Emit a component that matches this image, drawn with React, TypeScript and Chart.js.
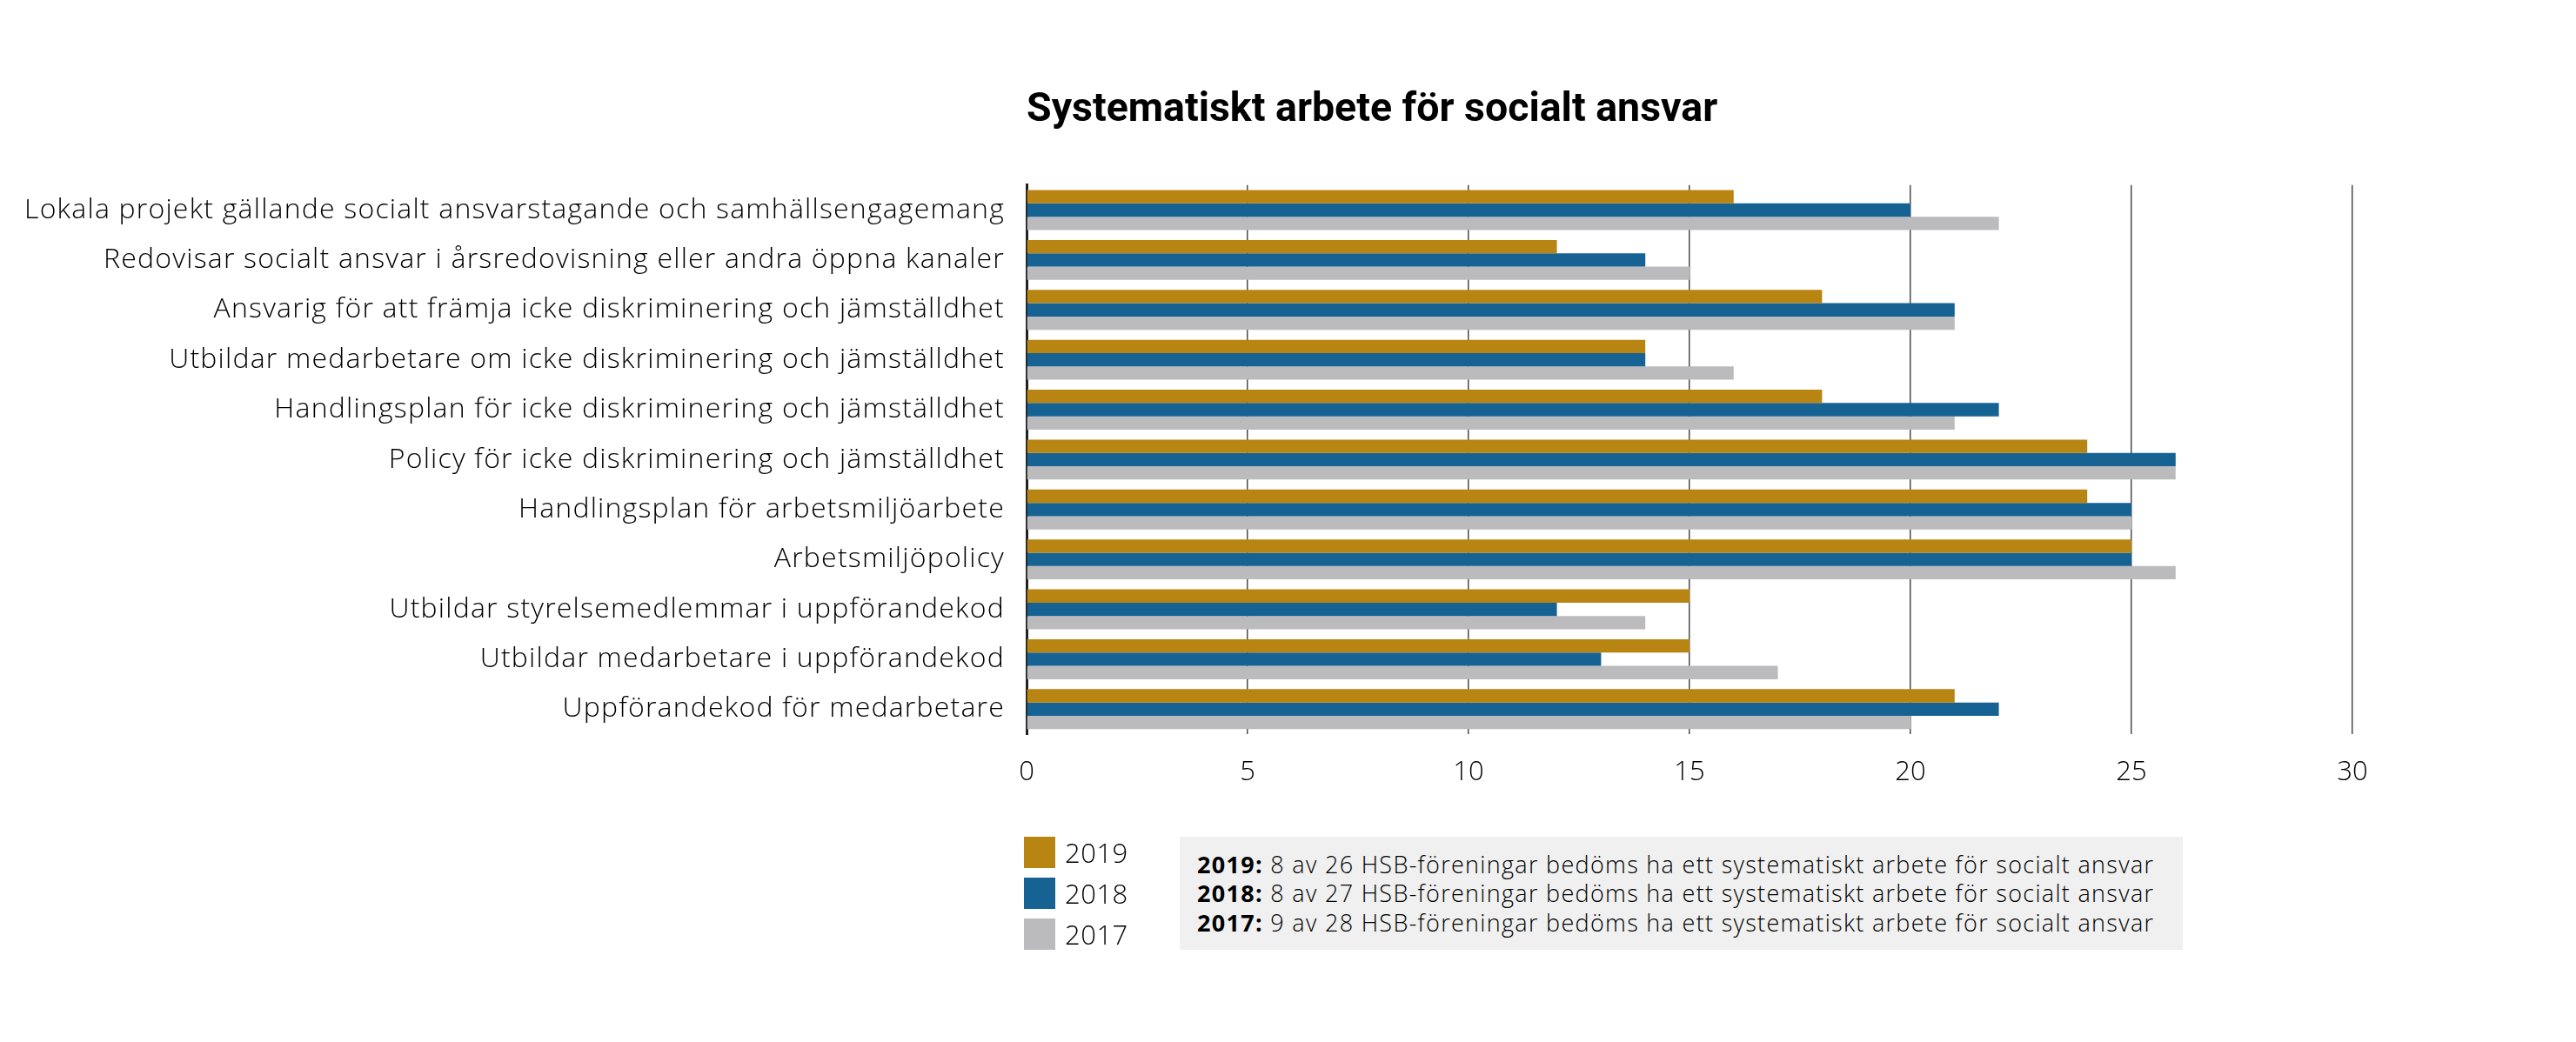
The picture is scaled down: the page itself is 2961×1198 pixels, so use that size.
import React, { useEffect, useRef } from "react";
import { Chart, registerables } from "chart.js";

Chart.register(...registerables);

const categories: string[] = [
  "Lokala projekt gällande socialt ansvarstagande och samhällsengagemang",
  "Redovisar socialt ansvar i årsredovisning eller andra öppna kanaler",
  "Ansvarig för att främja icke diskriminering och jämställdhet",
  "Utbildar medarbetare om icke diskriminering och jämställdhet",
  "Handlingsplan för icke diskriminering och jämställdhet",
  "Policy för icke diskriminering och jämställdhet",
  "Handlingsplan för arbetsmiljöarbete",
  "Arbetsmiljöpolicy",
  "Utbildar styrelsemedlemmar i uppförandekod",
  "Utbildar medarbetare i uppförandekod",
  "Uppförandekod för medarbetare",
];

const values2019: number[] = [16, 12, 18, 14, 18, 24, 24, 25, 15, 15, 21];
const values2018: number[] = [20, 14, 21, 14, 22, 26, 25, 25, 12, 13, 22];
const values2017: number[] = [22, 15, 21, 16, 21, 26, 25, 26, 14, 17, 20];

const seriesNames: string[] = ["2019", "2018", "2017"];
const seriesColors: string[] = ["#B88512", "#156293", "#BBBABD"];

const titleText = "Systematiskt arbete för socialt ansvar";

const noteYears: string[] = ["2019:", "2018:", "2017:"];
const noteTexts: string[] = [
  " 8 av 26 HSB-föreningar bedöms ha ett systematiskt arbete för socialt ansvar",
  " 8 av 27 HSB-föreningar bedöms ha ett systematiskt arbete för socialt ansvar",
  " 9 av 28 HSB-föreningar bedöms ha ett systematiskt arbete för socialt ansvar",
];

const xMin = 0;
const xMax = 30;
const xStep = 5;

const FONT = '"Open Sans", "Noto Sans", sans-serif';
const TITLE_FONT = 'Roboto, "Open Sans", sans-serif';
const TEXT_COLOR = "#000000";

const labelSpacingPlugin = {
  id: "labelSpacing",
  beforeDraw(chart: any) {
    const s: any = chart.scales.y;
    if (s && !s.__spaced) {
      const orig = s.drawLabels.bind(s);
      s.drawLabels = (area: any) => {
        const ctx: any = chart.ctx;
        ctx.save();
        ctx.letterSpacing = "1.2px";
        orig(area);
        ctx.restore();
      };
      s.__spaced = true;
    }
  },
};

export default function App() {
  const canvasRef = useRef<HTMLCanvasElement | null>(null);

  useEffect(() => {
    if (!canvasRef.current) return;
    const seriesValues = [values2019, values2018, values2017];
    const chart = new Chart(canvasRef.current, {
      type: "bar",
      data: {
        labels: categories,
        datasets: seriesNames.map((name, i) => ({
          label: name,
          data: seriesValues[i],
          backgroundColor: seriesColors[i],
          borderWidth: 0,
          barPercentage: 1.0,
          categoryPercentage: 0.8,
        })),
      },
      plugins: [labelSpacingPlugin],
      options: {
        indexAxis: "y",
        animation: false,
        responsive: true,
        maintainAspectRatio: false,
        devicePixelRatio: 1,
        layout: {
          padding: { left: 0, right: 257, top: 0, bottom: 274 },
        },
        plugins: {
          legend: { display: false },
          tooltip: { enabled: false },
          title: {
            display: true,
            text: titleText,
            align: "start",
            fullSize: false,
            color: "#000",
            font: { family: TITLE_FONT, size: 46.5, weight: "bold" },
            padding: { top: 99, bottom: 58 },
          },
        },
        scales: {
          x: {
            type: "linear",
            position: "bottom",
            min: xMin,
            max: xMax,
            ticks: {
              stepSize: xStep,
              color: TEXT_COLOR,
              font: { family: FONT, size: 31, weight: 300 },
              padding: 26,
            },
            grid: {
              color: "#4a4a4a",
              lineWidth: 1.5,
              drawTicks: false,
            },
            border: { display: false },
            afterFit: (scale: any) => {
              scale.height = 80;
            },
          },
          y: {
            type: "category",
            position: "left",
            ticks: {
              color: TEXT_COLOR,
              font: { family: FONT, size: 32, weight: 300 },
              padding: 25,
              autoSkip: false,
            },
            grid: { display: false, drawTicks: false },
            border: { display: true, color: "#222222", width: 3 },
            afterFit: (scale: any) => {
              scale.width = 1180;
            },
          },
        },
      },
    });
    return () => chart.destroy();
  }, []);

  return (
    <div
      style={{
        position: "absolute",
        left: 0,
        top: 0,
        width: 2961,
        height: 1198,
        background: "#fff",
        fontFamily: FONT,
      }}
    >
      <canvas ref={canvasRef} style={{ position: "absolute", left: 0, top: 0 }} />
      {seriesNames.map((name, i) => (
        <div
          key={name}
          style={{
            position: "absolute",
            left: 1177,
            top: 962 + i * 47,
            height: 36,
            display: "flex",
            alignItems: "center",
          }}
        >
          <div style={{ width: 36, height: 36, background: seriesColors[i] }} />
          <span
            style={{
              marginLeft: 11,
              fontSize: 31,
              fontWeight: 300,
              color: TEXT_COLOR,
              lineHeight: "36px",
              letterSpacing: "0.5px",
            }}
          >
            {name}
          </span>
        </div>
      ))}
      <div
        style={{
          position: "absolute",
          left: 1356,
          top: 962,
          width: 1153,
          height: 130,
          background: "#f0f0f0",
          display: "flex",
          flexDirection: "column",
          justifyContent: "center",
          paddingLeft: 20,
          boxSizing: "border-box",
          fontSize: 27,
          fontWeight: 300,
          lineHeight: "33.5px",
          letterSpacing: "1.3px",
          color: "#000",
          whiteSpace: "nowrap",
        }}
      >
        {noteYears.map((y, i) => (
          <div key={y}>
            <span style={{ fontWeight: 700 }}>{y}</span>
            <span>{noteTexts[i]}</span>
          </div>
        ))}
      </div>
    </div>
  );
}
